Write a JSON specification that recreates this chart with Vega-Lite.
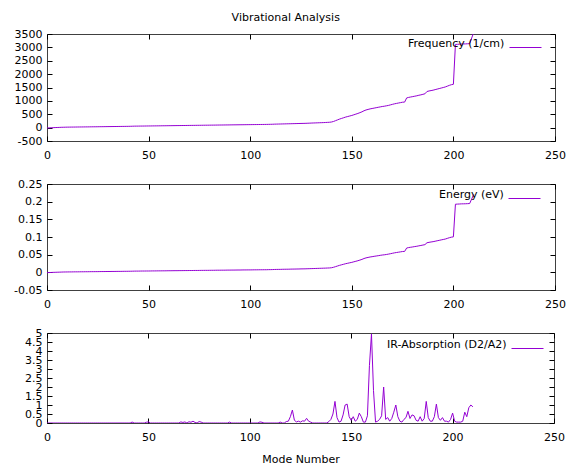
{
"$schema": "https://vega.github.io/schema/vega-lite/v6.json",
"padding": {"left": 5, "top": 11, "right": 5, "bottom": 0},
"title": {"text": "Vibrational Analysis", "font": "DejaVu Sans", "fontSize": 11, "fontWeight": "normal", "color": "#000", "anchor": "middle", "offset": 5},
"config": {
  "font": "DejaVu Sans",
  "view": {"stroke": "#404040", "strokeWidth": 1},
  "axis": {"grid": false, "domain": false, "ticks": true, "tickSize": -5, "tickColor": "#000", "tickWidth": 1, "labelFont": "DejaVu Sans", "labelFontSize": 11, "labelColor": "#000", "labelOverlap": false, "labelFlush": false, "labelBound": false, "titleFont": "DejaVu Sans", "titleFontSize": 11, "titleFontWeight": "normal", "titleColor": "#000"},
  "axisX": {"labelPadding": 13},
  "axisY": {"labelPadding": 10},
  "legend": {"orient": "none", "titleOrient": "left", "titleAnchor": "middle", "titleFont": "DejaVu Sans", "titleFontSize": 11, "titleFontWeight": "normal", "titleColor": "#000", "titlePadding": 12, "titleBaseline": "middle", "labelFontSize": 1, "labelOpacity": 0, "labelOffset": 0, "labelLimit": 1, "symbolType": "M-2,0H2", "symbolSize": 256, "symbolStrokeWidth": 1, "symbolFillColor": "transparent", "padding": 0}
},
"data": {"values": [
{"m":0,"f":-15,"e":-0.0009,"ir":0},{"m":1,"f":-10,"e":-0.0006,"ir":0},{"m":2,"f":-6,"e":-0.0004,"ir":0},{"m":3,"f":-2,"e":-0.0001,"ir":0},{"m":4,"f":2,"e":0.0001,"ir":0},{"m":5,"f":5,"e":0.0003,"ir":0},{"m":6,"f":8,"e":0.0005,"ir":0},{"m":7,"f":12,"e":0.0007,"ir":0},{"m":8,"f":14,"e":0.0009,"ir":0},{"m":9,"f":16,"e":0.001,"ir":0},
{"m":10,"f":18,"e":0.0011,"ir":0},{"m":11,"f":19,"e":0.0012,"ir":0},{"m":12,"f":20,"e":0.0012,"ir":0},{"m":13,"f":21,"e":0.0013,"ir":0},{"m":14,"f":22,"e":0.0014,"ir":0},{"m":15,"f":23,"e":0.0014,"ir":0},{"m":16,"f":24,"e":0.0015,"ir":0},{"m":17,"f":25,"e":0.0016,"ir":0},{"m":18,"f":26,"e":0.0016,"ir":0},{"m":19,"f":27,"e":0.0017,"ir":0},
{"m":20,"f":28,"e":0.0017,"ir":0},{"m":21,"f":29,"e":0.0018,"ir":0},{"m":22,"f":30,"e":0.0019,"ir":0},{"m":23,"f":31,"e":0.0019,"ir":0},{"m":24,"f":32,"e":0.002,"ir":0},{"m":25,"f":33,"e":0.002,"ir":0},{"m":26,"f":34,"e":0.0021,"ir":0},{"m":27,"f":35,"e":0.0022,"ir":0},{"m":28,"f":36,"e":0.0022,"ir":0},{"m":29,"f":37,"e":0.0023,"ir":0},
{"m":30,"f":38,"e":0.0024,"ir":0},{"m":31,"f":39,"e":0.0024,"ir":0},{"m":32,"f":40,"e":0.0025,"ir":0},{"m":33,"f":41,"e":0.0025,"ir":0},{"m":34,"f":42,"e":0.0026,"ir":0},{"m":35,"f":43,"e":0.0027,"ir":0},{"m":36,"f":44,"e":0.0027,"ir":0},{"m":37,"f":45,"e":0.0028,"ir":0},{"m":38,"f":46,"e":0.0029,"ir":0},{"m":39,"f":47,"e":0.0029,"ir":0},
{"m":40,"f":48,"e":0.003,"ir":0},{"m":41,"f":50,"e":0.0031,"ir":0},{"m":42,"f":52,"e":0.0032,"ir":0.05},{"m":43,"f":55,"e":0.0034,"ir":0},{"m":44,"f":56,"e":0.0035,"ir":0},{"m":45,"f":57,"e":0.0035,"ir":0},{"m":46,"f":58,"e":0.0036,"ir":0},{"m":47,"f":59,"e":0.0037,"ir":0},{"m":48,"f":60,"e":0.0037,"ir":0},{"m":49,"f":61,"e":0.0038,"ir":0.04},
{"m":50,"f":62,"e":0.0038,"ir":0.06},{"m":51,"f":63,"e":0.0039,"ir":0},{"m":52,"f":64,"e":0.004,"ir":0},{"m":53,"f":65,"e":0.004,"ir":0},{"m":54,"f":66,"e":0.0041,"ir":0},{"m":55,"f":67,"e":0.0042,"ir":0},{"m":56,"f":68,"e":0.0042,"ir":0},{"m":57,"f":69,"e":0.0043,"ir":0},{"m":58,"f":70,"e":0.0043,"ir":0},{"m":59,"f":71,"e":0.0044,"ir":0},
{"m":60,"f":72,"e":0.0045,"ir":0},{"m":61,"f":73,"e":0.0045,"ir":0},{"m":62,"f":74,"e":0.0046,"ir":0},{"m":63,"f":75,"e":0.0047,"ir":0},{"m":64,"f":76,"e":0.0047,"ir":0},{"m":65,"f":77,"e":0.0048,"ir":0},{"m":66,"f":78,"e":0.0048,"ir":0.06},{"m":67,"f":79,"e":0.0049,"ir":0.03},{"m":68,"f":80,"e":0.005,"ir":0.06},{"m":69,"f":81,"e":0.005,"ir":0},
{"m":70,"f":82,"e":0.0051,"ir":0.07},{"m":71,"f":83,"e":0.0051,"ir":0.04},{"m":72,"f":84,"e":0.0052,"ir":0.1},{"m":73,"f":85,"e":0.0053,"ir":0.03},{"m":74,"f":86,"e":0.0053,"ir":0},{"m":75,"f":87,"e":0.0054,"ir":0.08},{"m":76,"f":88,"e":0.0055,"ir":0.05},{"m":77,"f":89,"e":0.0055,"ir":0},{"m":78,"f":90,"e":0.0056,"ir":0},{"m":79,"f":91,"e":0.0056,"ir":0},
{"m":80,"f":92,"e":0.0057,"ir":0},{"m":81,"f":93,"e":0.0058,"ir":0},{"m":82,"f":94,"e":0.0058,"ir":0},{"m":83,"f":95,"e":0.0059,"ir":0},{"m":84,"f":96,"e":0.006,"ir":0},{"m":85,"f":97,"e":0.006,"ir":0},{"m":86,"f":98,"e":0.0061,"ir":0},{"m":87,"f":99,"e":0.0061,"ir":0},{"m":88,"f":100,"e":0.0062,"ir":0},{"m":89,"f":101,"e":0.0063,"ir":0},
{"m":90,"f":102,"e":0.0063,"ir":0.05},{"m":91,"f":103,"e":0.0064,"ir":0},{"m":92,"f":104,"e":0.0064,"ir":0},{"m":93,"f":105,"e":0.0065,"ir":0},{"m":94,"f":106,"e":0.0066,"ir":0},{"m":95,"f":107,"e":0.0066,"ir":0},{"m":96,"f":108,"e":0.0067,"ir":0},{"m":97,"f":109,"e":0.0068,"ir":0},{"m":98,"f":110,"e":0.0068,"ir":0},{"m":99,"f":111,"e":0.0069,"ir":0},
{"m":100,"f":112,"e":0.0069,"ir":0},{"m":101,"f":113,"e":0.007,"ir":0},{"m":102,"f":114,"e":0.0071,"ir":0},{"m":103,"f":115,"e":0.0071,"ir":0},{"m":104,"f":116,"e":0.0072,"ir":0},{"m":105,"f":117,"e":0.0073,"ir":0.06},{"m":106,"f":118,"e":0.0073,"ir":0.04},{"m":107,"f":119,"e":0.0074,"ir":0},{"m":108,"f":120,"e":0.0074,"ir":0},{"m":109,"f":122,"e":0.0076,"ir":0},
{"m":110,"f":124,"e":0.0077,"ir":0},{"m":111,"f":126,"e":0.0078,"ir":0},{"m":112,"f":130,"e":0.0081,"ir":0},{"m":113,"f":132,"e":0.0082,"ir":0},{"m":114,"f":134,"e":0.0083,"ir":0},{"m":115,"f":136,"e":0.0084,"ir":0.05},{"m":116,"f":138,"e":0.0086,"ir":0},{"m":117,"f":140,"e":0.0087,"ir":0},{"m":118,"f":142,"e":0.0088,"ir":0.08},{"m":119,"f":144,"e":0.0089,"ir":0.1},
{"m":120,"f":146,"e":0.0091,"ir":0.35},{"m":121,"f":148,"e":0.0092,"ir":0.72},{"m":122,"f":150,"e":0.0093,"ir":0.15},{"m":123,"f":152,"e":0.0094,"ir":0.06},{"m":124,"f":154,"e":0.0095,"ir":0.1},{"m":125,"f":156,"e":0.0097,"ir":0.05},{"m":126,"f":158,"e":0.0098,"ir":0.12},{"m":127,"f":160,"e":0.0099,"ir":0.1},{"m":128,"f":163,"e":0.0101,"ir":0.26},{"m":129,"f":166,"e":0.0103,"ir":0.1},
{"m":130,"f":170,"e":0.0105,"ir":0.05},{"m":131,"f":173,"e":0.0107,"ir":0},{"m":132,"f":176,"e":0.0109,"ir":0},{"m":133,"f":179,"e":0.0111,"ir":0},{"m":134,"f":182,"e":0.0113,"ir":0},{"m":135,"f":185,"e":0.0115,"ir":0},{"m":136,"f":188,"e":0.0117,"ir":0},{"m":137,"f":192,"e":0.0119,"ir":0},{"m":138,"f":196,"e":0.0122,"ir":0},{"m":139,"f":200,"e":0.0124,"ir":0.08},
{"m":140,"f":210,"e":0.013,"ir":0.2},{"m":141,"f":230,"e":0.0143,"ir":0.5},{"m":142,"f":260,"e":0.0161,"ir":1.2},{"m":143,"f":290,"e":0.018,"ir":0.3},{"m":144,"f":320,"e":0.0198,"ir":0.05},{"m":145,"f":345,"e":0.0214,"ir":0.1},{"m":146,"f":370,"e":0.0229,"ir":0.45},{"m":147,"f":395,"e":0.0245,"ir":1.0},{"m":148,"f":415,"e":0.0257,"ir":1.05},{"m":149,"f":435,"e":0.027,"ir":0.35},
{"m":150,"f":455,"e":0.0282,"ir":0.15},{"m":151,"f":480,"e":0.0298,"ir":0.35},{"m":152,"f":505,"e":0.0313,"ir":0.1},{"m":153,"f":530,"e":0.0329,"ir":0.2},{"m":154,"f":560,"e":0.0347,"ir":0.55},{"m":155,"f":590,"e":0.0366,"ir":0.35},{"m":156,"f":630,"e":0.0391,"ir":0.05},{"m":157,"f":660,"e":0.0409,"ir":0.05},{"m":158,"f":680,"e":0.0422,"ir":0.4},{"m":159,"f":700,"e":0.0434,"ir":3.2},
{"m":160,"f":715,"e":0.0443,"ir":4.95},{"m":161,"f":730,"e":0.0453,"ir":1.8},{"m":162,"f":745,"e":0.0462,"ir":0.05},{"m":163,"f":760,"e":0.0471,"ir":0.1},{"m":164,"f":775,"e":0.0481,"ir":0.2},{"m":165,"f":790,"e":0.049,"ir":0.4},{"m":166,"f":800,"e":0.0496,"ir":2.0},{"m":167,"f":815,"e":0.0505,"ir":0.2},{"m":168,"f":830,"e":0.0515,"ir":0.3},{"m":169,"f":850,"e":0.0527,"ir":0.1},
{"m":170,"f":870,"e":0.0539,"ir":0.25},{"m":171,"f":890,"e":0.0552,"ir":0.6},{"m":172,"f":905,"e":0.0561,"ir":1.0},{"m":173,"f":920,"e":0.057,"ir":0.35},{"m":174,"f":935,"e":0.058,"ir":0.1},{"m":175,"f":950,"e":0.0589,"ir":0.05},{"m":176,"f":955,"e":0.0592,"ir":0.2},{"m":177,"f":1110,"e":0.0688,"ir":0.3},{"m":178,"f":1130,"e":0.0701,"ir":0.65},{"m":179,"f":1145,"e":0.071,"ir":0.25},
{"m":180,"f":1160,"e":0.0719,"ir":0.45},{"m":181,"f":1175,"e":0.0729,"ir":0.4},{"m":182,"f":1190,"e":0.0738,"ir":0.15},{"m":183,"f":1210,"e":0.075,"ir":0.1},{"m":184,"f":1225,"e":0.076,"ir":0.35},{"m":185,"f":1245,"e":0.0772,"ir":0.1},{"m":186,"f":1265,"e":0.0784,"ir":0.25},{"m":187,"f":1350,"e":0.0837,"ir":1.2},{"m":188,"f":1370,"e":0.0849,"ir":0.3},{"m":189,"f":1385,"e":0.0859,"ir":0.1},
{"m":190,"f":1400,"e":0.0868,"ir":0.1},{"m":191,"f":1420,"e":0.088,"ir":0.35},{"m":192,"f":1440,"e":0.0893,"ir":1.05},{"m":193,"f":1460,"e":0.0905,"ir":0.3},{"m":194,"f":1480,"e":0.0918,"ir":0.15},{"m":195,"f":1500,"e":0.093,"ir":0.3},{"m":196,"f":1520,"e":0.0942,"ir":0.1},{"m":197,"f":1550,"e":0.0961,"ir":0.1},{"m":198,"f":1580,"e":0.098,"ir":0.05},{"m":199,"f":1605,"e":0.0995,"ir":0.2},
{"m":200,"f":1620,"e":0.1004,"ir":0.55},{"m":201,"f":3110,"e":0.1928,"ir":0.1},{"m":202,"f":3115,"e":0.1931,"ir":0.05},{"m":203,"f":3120,"e":0.1934,"ir":0.05},{"m":204,"f":3125,"e":0.1938,"ir":0.05},{"m":205,"f":3128,"e":0.1939,"ir":0.1},{"m":206,"f":3130,"e":0.1941,"ir":0.6},{"m":207,"f":3135,"e":0.1944,"ir":0.35},{"m":208,"f":3140,"e":0.1947,"ir":0.85},{"m":209,"f":3350,"e":0.2077,"ir":1.0},
{"m":210,"f":3560,"e":0.2207,"ir":0.9}
]},
"spacing": 16,
"resolve": {"scale": {"color": "independent"}, "legend": {"color": "independent"}},
"vconcat": [
{
  "width": 508, "height": 107,
  "layer": [
    {"mark": {"type": "line", "strokeWidth": 1, "clip": true},
     "encoding": {
       "x": {"field": "m", "type": "quantitative", "scale": {"domain": [0, 250], "nice": false, "zero": false}, "axis": {"values": [0, 50, 100, 150, 200, 250], "title": null}},
       "y": {"field": "f", "type": "quantitative", "scale": {"domain": [-500, 3500], "nice": false, "zero": false}, "axis": {"values": [-500, 0, 500, 1000, 1500, 2000, 2500, 3000, 3500], "title": null, "minExtent": 41, "maxExtent": 41, "labelExpr": "datum.value < 0 ? '-' + format(-datum.value, '~g') : format(datum.value, '~g')"}},
       "color": {"datum": "Frequency (1/cm)", "type": "nominal", "scale": {"range": ["#9400d3"]}, "legend": {"title": "Frequency (1/cm)", "legendX": 361, "legendY": 5}}
     }},
    {"mark": {"type": "line", "opacity": 0, "clip": true},
     "encoding": {
       "x": {"field": "m", "type": "quantitative", "axis": {"orient": "top", "values": [0, 50, 100, 150, 200, 250], "labels": false, "title": null, "minExtent": 0, "maxExtent": 0}},
       "y": {"field": "f", "type": "quantitative", "axis": {"orient": "right", "values": [-500, 0, 500, 1000, 1500, 2000, 2500, 3000, 3500], "labels": false, "title": null, "minExtent": 0, "maxExtent": 0}}
     }}
  ],
  "resolve": {"axis": {"x": "independent", "y": "independent"}}
},
{
  "width": 508, "height": 106,
  "layer": [
    {"mark": {"type": "line", "strokeWidth": 1, "clip": true},
     "encoding": {
       "x": {"field": "m", "type": "quantitative", "scale": {"domain": [0, 250], "nice": false, "zero": false}, "axis": {"values": [0, 50, 100, 150, 200, 250], "title": null}},
       "y": {"field": "e", "type": "quantitative", "scale": {"domain": [-0.05, 0.25], "nice": false, "zero": false}, "axis": {"values": [-0.05, 0, 0.05, 0.1, 0.15, 0.2, 0.25], "title": null, "minExtent": 41, "maxExtent": 41, "labelExpr": "datum.value < 0 ? '-' + format(-datum.value, '~g') : format(datum.value, '~g')"}},
       "color": {"datum": "Energy (eV)", "type": "nominal", "scale": {"range": ["#9400d3"]}, "legend": {"title": "Energy (eV)", "legendX": 392, "legendY": 6}}
     }},
    {"mark": {"type": "line", "opacity": 0, "clip": true},
     "encoding": {
       "x": {"field": "m", "type": "quantitative", "axis": {"orient": "top", "values": [0, 50, 100, 150, 200, 250], "labels": false, "title": null, "minExtent": 0, "maxExtent": 0}},
       "y": {"field": "e", "type": "quantitative", "axis": {"orient": "right", "values": [-0.05, 0, 0.05, 0.1, 0.15, 0.2, 0.25], "labels": false, "title": null, "minExtent": 0, "maxExtent": 0}}
     }}
  ],
  "resolve": {"axis": {"x": "independent", "y": "independent"}}
},
{
  "width": 507, "height": 90,
  "layer": [
    {"mark": {"type": "line", "strokeWidth": 1, "clip": true},
     "encoding": {
       "x": {"field": "m", "type": "quantitative", "scale": {"domain": [0, 250], "nice": false, "zero": false}, "axis": {"values": [0, 50, 100, 150, 200, 250], "title": "Mode Number", "titlePadding": 11}},
       "y": {"field": "ir", "type": "quantitative", "scale": {"domain": [0, 5], "nice": false, "zero": false}, "axis": {"values": [0, 0.5, 1, 1.5, 2, 2.5, 3, 3.5, 4, 4.5, 5], "title": null, "minExtent": 41, "maxExtent": 41, "labelExpr": "format(datum.value, '~g')"}},
       "color": {"datum": "IR-Absorption (D2/A2)", "type": "nominal", "scale": {"range": ["#9400d3"]}, "legend": {"title": "IR-Absorption (D2/A2)", "legendX": 340, "legendY": 7}}
     }},
    {"mark": {"type": "line", "opacity": 0, "clip": true},
     "encoding": {
       "x": {"field": "m", "type": "quantitative", "axis": {"orient": "top", "values": [0, 50, 100, 150, 200, 250], "labels": false, "title": null, "minExtent": 0, "maxExtent": 0}},
       "y": {"field": "ir", "type": "quantitative", "axis": {"orient": "right", "values": [0, 0.5, 1, 1.5, 2, 2.5, 3, 3.5, 4, 4.5, 5], "labels": false, "title": null, "minExtent": 0, "maxExtent": 0}}
     }}
  ],
  "resolve": {"axis": {"x": "independent", "y": "independent"}}
}
]
}
